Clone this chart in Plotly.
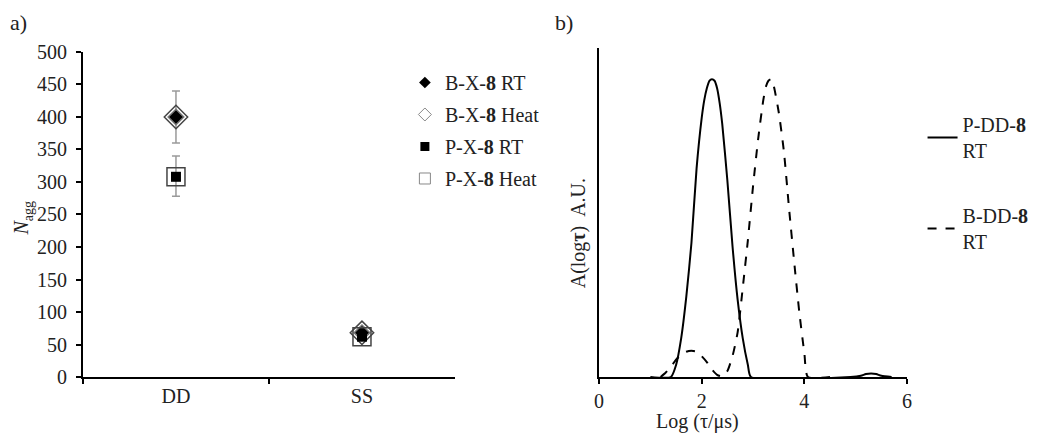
import plotly.graph_objects as go

# ---- Panel a data ----
categories = ["DD", "SS"]
bx_rt = [400, 68]
bx_heat = [400, 68]
bx_err = [40, 0]
px_rt = [308, 62]
px_heat = [308, 62]
px_err_plus = [32, 0]
px_err_minus = [30, 0]
y_ticks_a = [0, 50, 100, 150, 200, 250, 300, 350, 400, 450, 500]

# ---- Panel b data ----
log_tau_p = [1.0, 1.40, 1.50, 1.60, 1.70, 1.80, 1.90, 2.00, 2.05, 2.10, 2.15, 2.20, 2.25,
             2.30, 2.35, 2.40, 2.50, 2.60, 2.70, 2.80, 2.90, 2.96, 4.9, 5.1, 5.2, 5.3,
             5.4, 5.5, 5.7]
a_p = [0, 0, 0.04, 0.13, 0.27, 0.45, 0.70, 0.87, 0.93, 0.97, 0.995, 1.00, 0.995,
       0.97, 0.92, 0.85, 0.66, 0.44, 0.26, 0.13, 0.04, 0, 0, 0.004, 0.010, 0.012,
       0.010, 0.004, 0]
log_tau_b = [1.2, 1.3, 1.4, 1.5, 1.6, 1.7, 1.8, 1.9, 2.0, 2.1, 2.2, 2.3, 2.4,
             2.5, 2.6, 2.7, 2.8, 2.9, 3.0, 3.1, 3.2, 3.25, 3.3, 3.35, 3.4, 3.5, 3.6,
             3.7, 3.8, 3.9, 4.0, 4.07, 4.5]
a_b = [0.0, 0.015, 0.035, 0.058, 0.075, 0.085, 0.088, 0.085, 0.07, 0.05, 0.025,
       0.007, 0.002, 0.02, 0.07, 0.15, 0.30, 0.46, 0.64, 0.80, 0.93, 0.975, 0.995,
       1.00, 0.98, 0.89, 0.76, 0.57, 0.39, 0.22, 0.08, 0, 0]
x_ticks_b = [0, 2, 4, 6]

FONT = "Liberation Serif"
TXT = "#222222"
FS = 20

fig = go.Figure()

# Panel a
fig.add_trace(go.Scatter(
    x=categories, y=bx_rt, mode="markers", showlegend=False,
    error_y=dict(type="data", array=bx_err, color="#9a9a9a", thickness=1.5, width=4),
    marker=dict(symbol="diamond", size=12, color="black", line=dict(color="#777777", width=1.5)),
    xaxis="x", yaxis="y"))
fig.add_trace(go.Scatter(
    x=categories, y=bx_heat, mode="markers", showlegend=False,
    marker=dict(symbol="diamond-open", size=18, color="#444444", line=dict(width=1.5)),
    xaxis="x", yaxis="y"))
fig.add_trace(go.Scatter(
    x=categories, y=px_rt, mode="markers", showlegend=False,
    error_y=dict(type="data", array=px_err_plus, arrayminus=px_err_minus,
                 color="#9a9a9a", thickness=1.5, width=4),
    marker=dict(symbol="square", size=10, color="black"),
    xaxis="x", yaxis="y"))
fig.add_trace(go.Scatter(
    x=categories, y=px_heat, mode="markers", showlegend=False,
    marker=dict(symbol="square-open", size=18, color="#444444", line=dict(width=1.5)),
    xaxis="x", yaxis="y"))

# legend entries for panel a
leg_a = [
    ("B-X-<b>8</b> RT", dict(symbol="diamond", size=9, color="black")),
    ("B-X-<b>8</b> Heat", dict(symbol="diamond-open", size=10, color="#888888", line=dict(width=1))),
    ("P-X-<b>8</b> RT", dict(symbol="square", size=9, color="black")),
    ("P-X-<b>8</b> Heat", dict(symbol="square-open", size=11, color="#888888", line=dict(width=1))),
]
for i, (name, mk) in enumerate(leg_a):
    fig.add_trace(go.Scatter(x=[None], y=[None], mode="markers", name=name, marker=mk,
                             legendgroup=f"a{i}", xaxis="x", yaxis="y", legend="legend"))

# Panel b
fig.add_trace(go.Scatter(x=log_tau_p, y=a_p, mode="lines", name="P-DD-<b>8</b><br>RT",
                         legendgroup="b0",
                         line=dict(color="black", width=2, shape="spline", smoothing=0.6),
                         xaxis="x2", yaxis="y2", legend="legend2"))
fig.add_trace(go.Scatter(x=log_tau_b, y=a_b, mode="lines", name="B-DD-<b>8</b><br>RT",
                         legendgroup="b1",
                         line=dict(color="black", width=2, dash="dash", shape="spline",
                                   smoothing=0.6),
                         xaxis="x2", yaxis="y2", legend="legend2"))

axis_common = dict(showgrid=False, zeroline=False, showline=True, linecolor="black",
                   linewidth=2, ticks="outside", tickcolor="black", ticklen=5, tickwidth=1.5,
                   automargin=False,
                   tickfont=dict(family=FONT, size=FS, color=TXT))

fig.update_layout(
    width=1050, height=433, margin=dict(l=0, r=0, t=0, b=0),
    plot_bgcolor="white", paper_bgcolor="white",
    font=dict(family=FONT, size=FS, color=TXT),
    xaxis=dict(domain=[0.0714, 0.4257], type="category", tickson="boundaries",
               range=[-0.5, 1.5], anchor="y", **axis_common),
    yaxis=dict(domain=[0.1478, 0.8984], range=[0, 500], tickvals=y_ticks_a,
               anchor="x", ticklabelstandoff=5, **axis_common),
    xaxis2=dict(domain=[0.5629, 0.8562], range=[0, 6], tickvals=x_ticks_b,
                anchor="y2", **axis_common),
    yaxis2=dict(domain=[0.1478, 0.9076], range=[0, 1.105], showgrid=False, zeroline=False,
                showline=True, linecolor="black", linewidth=2, showticklabels=False,
                ticks="", anchor="x2", automargin=False),
    legend=dict(x=0.378, y=0.873, xanchor="left", yanchor="top", bgcolor="rgba(0,0,0,0)",
                font=dict(family=FONT, size=FS, color=TXT), tracegroupgap=3,
                itemwidth=30),
    legend2=dict(x=0.871, y=0.776, xanchor="left", yanchor="top", bgcolor="rgba(0,0,0,0)",
                 font=dict(family=FONT, size=FS, color=TXT), tracegroupgap=36,
                 itemwidth=30),
    showlegend=True,
    annotations=[
        dict(text="a)", x=0.0, y=1.0, xref="paper", yref="paper", xanchor="left",
             yanchor="top", showarrow=False, font=dict(family=FONT, size=22, color=TXT)),
        dict(text="b)", x=0.519, y=1.0, xref="paper", yref="paper", xanchor="left",
             yanchor="top", showarrow=False, font=dict(family=FONT, size=22, color=TXT)),
        dict(text="<i>N</i><sub>agg</sub>", x=0.0, y=0.515, xref="paper", yref="paper",
             xanchor="left", textangle=-90, showarrow=False,
             font=dict(family=FONT, size=FS, color=TXT)),
        dict(text="A(log<b>τ</b>)  A.U.", x=0.543, y=0.48, xref="paper", yref="paper",
             textangle=-90, showarrow=False, font=dict(family=FONT, size=FS, color=TXT)),
        dict(text="Log (τ/μs)", x=0.698, y=0.045, xref="paper", yref="paper",
             yanchor="middle", showarrow=False, font=dict(family=FONT, size=FS, color=TXT)),
    ],
)

fig.write_html("out.html")
